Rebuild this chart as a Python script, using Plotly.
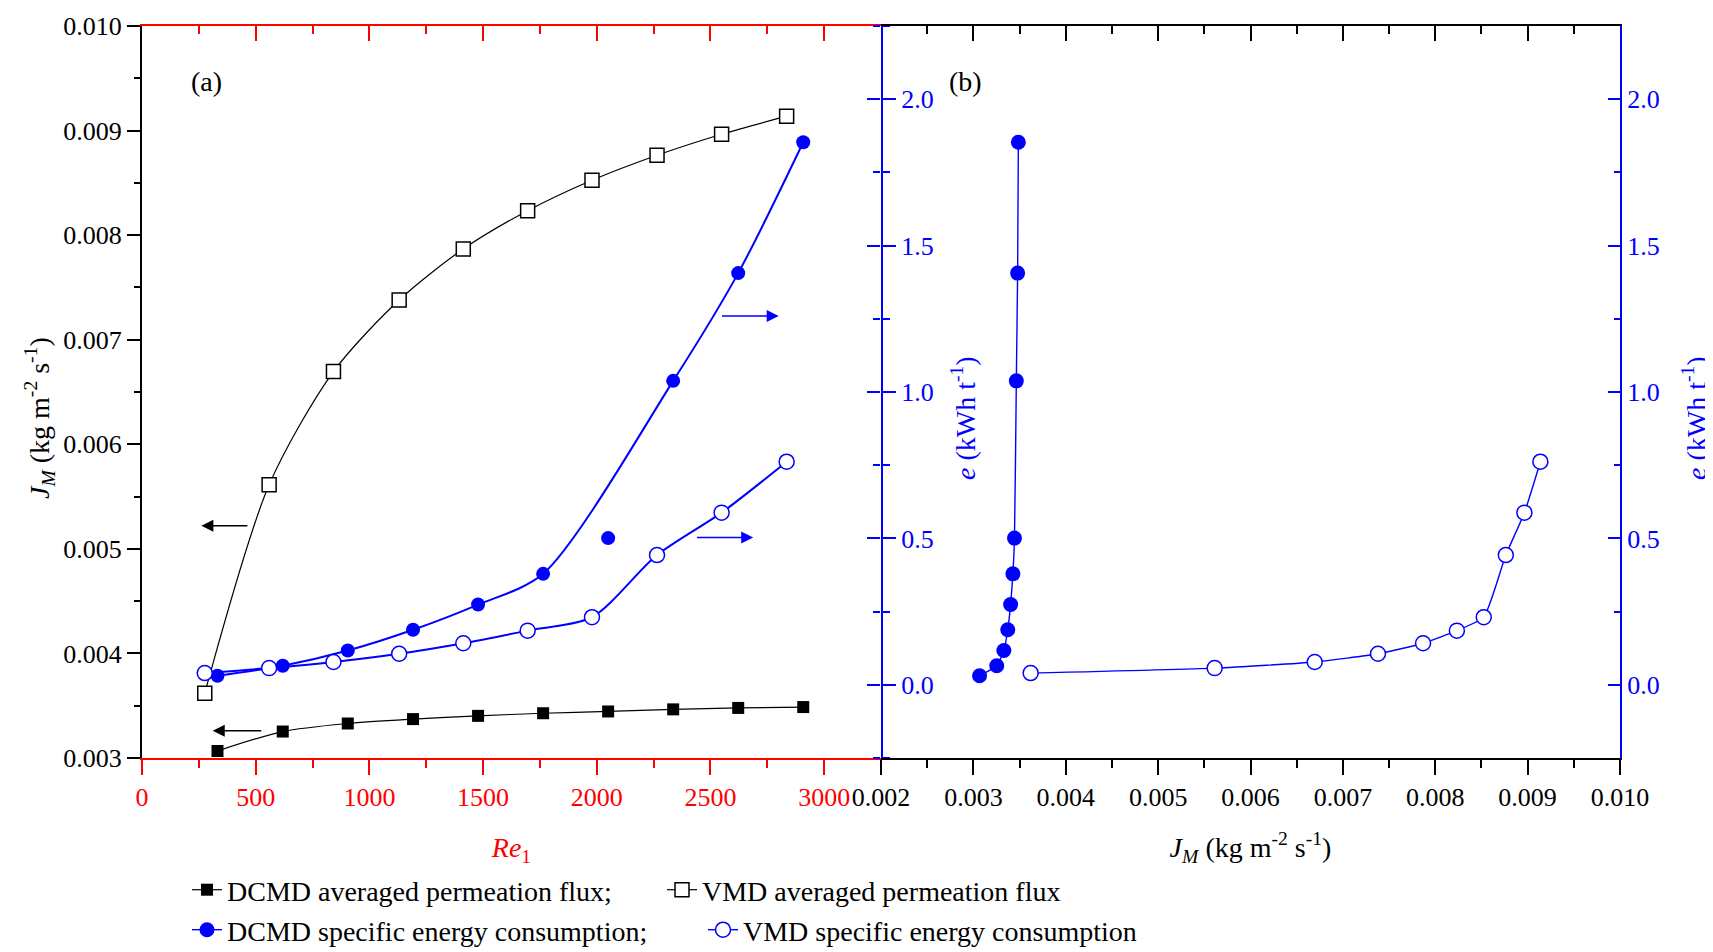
import plotly.graph_objects as go

FONT = "Liberation Serif, Times New Roman, serif"
BLUE = "#0000FF"
RED = "#FF0000"
BLACK = "#000000"

# ---------------- data ----------------
# Panel (a): Re1 on x
re_dcmd = [332, 619, 905, 1192, 1478, 1764, 2050, 2336, 2622, 2908]
j_dcmd = [0.003067, 0.003253, 0.003330, 0.003372, 0.003403, 0.003428, 0.003445, 0.003465, 0.003479, 0.003487]
e_dcmd = [0.031, 0.065, 0.117, 0.188, 0.274, 0.379, 0.501, 1.038, 1.406, 1.853]

re_vmd = [276, 559, 842, 1131, 1413, 1696, 1979, 2265, 2549, 2835]
j_vmd = [0.00362, 0.005612, 0.006695, 0.00738, 0.007868, 0.008234, 0.008525, 0.008764, 0.008965, 0.009138]
e_vmd = [0.040, 0.057, 0.078, 0.106, 0.142, 0.185, 0.231, 0.443, 0.588, 0.762]

# the DCMD energy curve in (a) is not drawn through this point
dcmd_curve_skip = 6

re_ticks = [0, 500, 1000, 1500, 2000, 2500, 3000]
re_range = [0, 3250]
j_range = [0.003, 0.010]
jb_range = [0.002, 0.010]
e_range = [-0.25, 2.25]

fig = go.Figure()

# ---- panel (a): fluxes (left axis) ----
fig.add_trace(go.Scatter(
    x=re_dcmd, y=j_dcmd, mode="lines+markers", name="DCMD averaged permeation flux;",
    line=dict(color=BLACK, width=1.2, shape="spline", smoothing=0.8),
    marker=dict(symbol="square", size=12, color=BLACK),
    xaxis="x", yaxis="y", legend="legend"))
fig.add_trace(go.Scatter(
    x=re_vmd, y=j_vmd, mode="lines+markers", name="VMD averaged permeation flux",
    line=dict(color=BLACK, width=1.2, shape="spline", smoothing=0.8),
    marker=dict(symbol="square", size=14, color="white", line=dict(color=BLACK, width=1.5)),
    xaxis="x", yaxis="y", legend="legend"))

# ---- panel (a): energy (middle axis) ----
fig.add_trace(go.Scatter(
    x=[r for i, r in enumerate(re_dcmd) if i != dcmd_curve_skip],
    y=[e for i, e in enumerate(e_dcmd) if i != dcmd_curve_skip],
    mode="lines", line=dict(color=BLUE, width=2, shape="spline", smoothing=0.8),
    showlegend=False, hoverinfo="skip", xaxis="x", yaxis="y2"))
fig.add_trace(go.Scatter(
    x=re_dcmd, y=e_dcmd, mode="markers",
    marker=dict(symbol="circle", size=14, color=BLUE),
    showlegend=False, xaxis="x", yaxis="y2"))
fig.add_trace(go.Scatter(
    x=re_vmd, y=e_vmd, mode="lines+markers",
    line=dict(color=BLUE, width=2, shape="spline", smoothing=0.8),
    marker=dict(symbol="circle", size=15, color="white", line=dict(color=BLUE, width=1.5)),
    showlegend=False, xaxis="x", yaxis="y2"))

# ---- panel (b): energy vs flux ----
fig.add_trace(go.Scatter(
    x=j_dcmd, y=e_dcmd, mode="lines+markers", name="DCMD specific energy consumption;",
    line=dict(color=BLUE, width=1.4, shape="spline", smoothing=0.5),
    marker=dict(symbol="circle", size=15, color=BLUE),
    xaxis="x2", yaxis="y3", legend="legend2"))
fig.add_trace(go.Scatter(
    x=j_vmd, y=e_vmd, mode="lines+markers", name="VMD specific energy consumption",
    line=dict(color=BLUE, width=1.4, shape="spline", smoothing=0.5),
    marker=dict(symbol="circle", size=15, color="white", line=dict(color=BLUE, width=1.5)),
    xaxis="x2", yaxis="y3", legend="legend2"))

# empty placeholders so that the overlay (frame) axes get drawn
for xa, ya in [("x3", "y"), ("x4", "y3"), ("x2", "y4")]:
    fig.add_trace(go.Scatter(x=[None], y=[None], mode="markers", xaxis=xa, yaxis=ya,
                             showlegend=False, hoverinfo="skip"))

tickfont = dict(family=FONT, size=26, color=BLACK)
bluetick = dict(family=FONT, size=26, color=BLUE)
common = dict(showgrid=False, zeroline=False, showline=True, linewidth=2, tickwidth=2)

W, H = 1705, 944          # page body adds an 8 px offset; this fills the 1713x952 window
ML, MR, MT, MB = 134, 93, 18, 194
PW = W - ML - MR
PH = H - MT - MB


def px_to_paper(xs, ys):
    # pixel of the 1713x952 window -> paper coords
    return (xs - 8 - ML) / PW, (H - MB - (ys - 8)) / PH


_, leg1_y = px_to_paper(0, 890)
_, leg2_y = px_to_paper(0, 930)
leg_x, _ = px_to_paper(187, 0)

fig.update_layout(
    width=W, height=H, autosize=False,
    margin=dict(l=ML, r=MR, t=MT, b=MB, pad=0, autoexpand=False),
    paper_bgcolor="white", plot_bgcolor="white",
    font=dict(family=FONT, size=26, color=BLACK),
    xaxis=dict(domain=[0, 0.5], range=re_range, anchor="y", side="bottom",
               linecolor=RED, tickcolor=RED, ticks="outside", ticklen=15,
               tickvals=re_ticks, tickfont=dict(family=FONT, size=26, color=RED),
               minor=dict(ticks="outside", ticklen=8, tickwidth=2, tickcolor=RED, dtick=250, tick0=0),
               title=dict(text="<i>Re</i><sub>1</sub>", font=dict(family=FONT, size=28, color=RED), standoff=26),
               **common),
    xaxis3=dict(overlaying="x", range=re_range, anchor="y", side="top",
                linecolor=RED, tickcolor=RED, ticks="inside", ticklen=15,
                tickvals=re_ticks, showticklabels=False,
                minor=dict(ticks="inside", ticklen=8, tickwidth=2, tickcolor=RED, dtick=250, tick0=0),
                **common),
    yaxis=dict(domain=[0, 1], range=j_range, anchor="x", side="left",
               linecolor=BLACK, tickcolor=BLACK, ticks="outside", ticklen=13,
               tick0=0.003, dtick=0.001, tickformat=".3f", tickfont=tickfont,
               minor=dict(ticks="outside", ticklen=6, tickwidth=2, tickcolor=BLACK, dtick=0.0005, tick0=0.003),
               **common),
    yaxis2=dict(overlaying="y", range=e_range, anchor="x", side="right",
                linecolor=BLUE, tickcolor=BLUE, ticks="outside", ticklen=13,
                tick0=0, dtick=0.5, tickformat=".1f", tickfont=bluetick,
                minor=dict(ticks="outside", ticklen=7, tickwidth=2, tickcolor=BLUE, dtick=0.25, tick0=0),
                **common),
    xaxis2=dict(domain=[0.5, 1], range=jb_range, anchor="y3", side="bottom",
                linecolor=BLACK, tickcolor=BLACK, ticks="outside", ticklen=15,
                tick0=0.002, dtick=0.001, tickformat=".3f", tickfont=tickfont,
                minor=dict(ticks="outside", ticklen=8, tickwidth=2, tickcolor=BLACK, dtick=0.0005, tick0=0.002),
                title=dict(text="<i>J</i><sub><i>M</i></sub> (kg m<sup>-2</sup> s<sup>-1</sup>)",
                           font=dict(family=FONT, size=28, color=BLACK), standoff=26),
                **common),
    xaxis4=dict(overlaying="x2", range=jb_range, anchor="y3", side="top",
                linecolor=BLACK, tickcolor=BLACK, ticks="inside", ticklen=15,
                tick0=0.002, dtick=0.001, showticklabels=False,
                minor=dict(ticks="inside", ticklen=8, tickwidth=2, tickcolor=BLACK, dtick=0.0005, tick0=0.002),
                **common),
    yaxis3=dict(domain=[0, 1], range=e_range, anchor="x2", side="left",
                showline=False, zeroline=False, showgrid=False, tickwidth=2,
                tickcolor=BLUE, ticks="outside", ticklen=13,
                tick0=0, dtick=0.5, showticklabels=False,
                minor=dict(ticks="outside", ticklen=7, tickwidth=2, tickcolor=BLUE, dtick=0.25, tick0=0)),
    yaxis4=dict(overlaying="y3", range=e_range, anchor="x2", side="right",
                linecolor=BLUE, tickcolor=BLUE, ticks="inside", ticklen=12,
                tick0=0, dtick=0.5, tickformat=".1f", tickfont=bluetick,
                minor=dict(ticks="inside", ticklen=6, tickwidth=2, tickcolor=BLUE, dtick=0.25, tick0=0),
                **common),
    legend=dict(orientation="h", x=leg_x, y=leg1_y, xanchor="left", yanchor="middle",
                font=dict(family=FONT, size=28, color=BLACK), bgcolor="rgba(0,0,0,0)",
                entrywidth=430, entrywidthmode="pixels", itemwidth=30),
    legend2=dict(orientation="h", x=leg_x, y=leg2_y, xanchor="left", yanchor="middle",
                 font=dict(family=FONT, size=28, color=BLACK), bgcolor="rgba(0,0,0,0)",
                 entrywidth=471, entrywidthmode="pixels", itemwidth=30),
    showlegend=True,
)

# y-axis titles (placed like the original, slightly below the axis centre)
ytitle_j = "<i>J</i><sub><i>M</i></sub> (kg m<sup>-2</sup> s<sup>-1</sup>)"
ytitle_e = "<i>e</i> (kWh t<sup>-1</sup>)"
for sx, txt, col in [(40, ytitle_j, BLACK), (964, ytitle_e, BLUE), (1695, ytitle_e, BLUE)]:
    px, py = px_to_paper(sx, 418)
    fig.add_annotation(text=txt, xref="paper", yref="paper", x=px, y=py, textangle=-90,
                       xanchor="center", yanchor="middle", showarrow=False,
                       font=dict(family=FONT, size=28, color=col))

# panel labels
for sx, txt in [(206, "(a)"), (965, "(b)")]:
    px, py = px_to_paper(sx, 82)
    fig.add_annotation(text=txt, xref="paper", yref="paper", x=px, y=py,
                       xanchor="center", yanchor="middle", showarrow=False,
                       font=dict(family=FONT, size=28, color=BLACK))

# arrows indicating which axis each curve belongs to (panel (a) data units)
arrows = [
    (261, 470, 0.00522, BLACK),
    (311, 531, 0.00326, BLACK),
    (2800, 2544, 0.007227, BLUE),
    (2688, 2434, 0.005108, BLUE),
]
for hx, tx, yy, col in arrows:
    fig.add_annotation(x=hx, y=yy, ax=tx, ay=yy, xref="x", yref="y", axref="x", ayref="y",
                       text="", showarrow=True, arrowhead=2, arrowsize=1.6, arrowwidth=1.5,
                       arrowcolor=col)

fig.write_html("out.html")
